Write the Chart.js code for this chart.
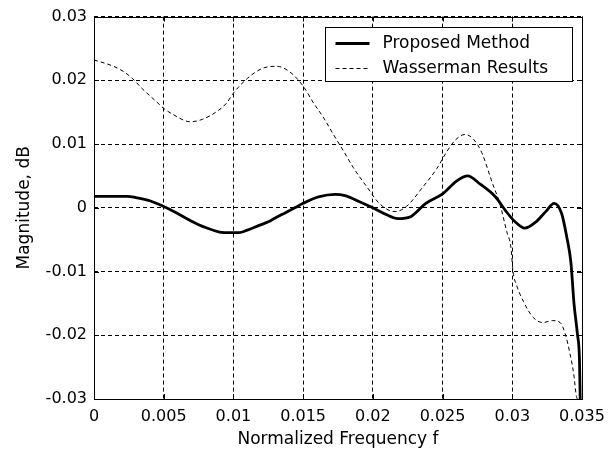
<!DOCTYPE html>
<html>
<head>
<meta charset="utf-8">
<script src="https://cdn.jsdelivr.net/npm/chart.js@4/dist/chart.umd.min.js"></script>
<style>
  html, body { margin: 0; padding: 0; background: #ffffff; }
  #wrap { width: 613px; height: 454px; }
</style>
</head>
<body>
<div id="wrap"><canvas id="c" width="613" height="454"></canvas></div>
<script>
// normalized frequency / magnitude (dB)
const proposedFreq = [0, 0.001, 0.002, 0.0024, 0.003, 0.004, 0.005, 0.006, 0.007, 0.008,
  0.009, 0.0098, 0.0104, 0.011, 0.0118, 0.0125, 0.013, 0.0137, 0.0144, 0.015,
  0.0161, 0.0173, 0.018, 0.019, 0.02, 0.021, 0.0218, 0.0227, 0.0238, 0.025,
  0.026, 0.0268, 0.0277, 0.0288, 0.0295, 0.0302, 0.0309, 0.0317, 0.0324, 0.033,
  0.03354, 0.0339, 0.0342, 0.03443, 0.03467, 0.03482, 0.03487]
const proposedMag = [0.0018, 0.0018, 0.0018, 0.0018, 0.0016, 0.0011, 0.0002, -0.0009, -0.0021, -0.0031,
  -0.0038, -0.0039, -0.0039, -0.0035, -0.0028, -0.0022, -0.0016, -0.0008, 0.0, 0.0007,
  0.0017, 0.0021, 0.0019, 0.001, 0.0, -0.0011, -0.0017, -0.0014, 0.0007, 0.0022,
  0.0042, 0.005, 0.0037, 0.0017, -0.0004, -0.0022, -0.0032, -0.0022, -0.0006, 0.0007,
  -0.0009, -0.0045, -0.0085, -0.0151, -0.0198, -0.0239, -0.03]

const wassermanFreq = [0, 0.0014, 0.0021, 0.0027, 0.0035, 0.0045, 0.005, 0.0057, 0.0069, 0.0078,
  0.0088, 0.0095, 0.01, 0.011, 0.0121, 0.0131, 0.014, 0.015, 0.0157, 0.0165,
  0.0172, 0.0179, 0.0186, 0.0196, 0.0205, 0.0216, 0.0224, 0.0236, 0.0246, 0.0253,
  0.0259, 0.0266, 0.0272, 0.0278, 0.0286, 0.0291, 0.0296, 0.0299, 0.03006, 0.0303,
  0.0308, 0.0315, 0.0322, 0.0329, 0.03343, 0.0338, 0.03414, 0.0344, 0.0346, 0.03467]
const wassermanMag = [0.0232, 0.0222, 0.0214, 0.0204, 0.0186, 0.0166, 0.0156, 0.0146, 0.0135, 0.0139,
  0.0151, 0.0164, 0.018, 0.0203, 0.0219, 0.0222, 0.0214, 0.0191, 0.0166, 0.014,
  0.0114, 0.0089, 0.0063, 0.0032, 0.0006, -0.0006, 0.0002, 0.0033, 0.0062, 0.0088,
  0.0106, 0.0115, 0.0108, 0.0087, 0.0037, 0.0007, -0.0037, -0.0062, -0.0101, -0.0121,
  -0.0147, -0.0172, -0.018, -0.0177, -0.018, -0.0198, -0.0229, -0.026, -0.0296, -0.03]

const seriesLabels = ['Proposed Method', 'Wasserman Results']
const xTicks = { min: 0, max: 0.035, step: 0.005 }
const yTicks = { min: -0.03, max: 0.03, step: 0.01 }

const FONT = '"DejaVu Sans", "Liberation Sans", Arial, sans-serif'
const toPoints = (xs, ys) => xs.map((x, i) => ({ x, y: ys[i] }))
const fmt = (v) => String(+v.toFixed(4))

// matlab style box, inward ticks and boxed legend
const framePlugin = {
  id: 'frame',
  afterDraw(chart) {
    const { ctx, chartArea: a, scales } = chart
    ctx.save()
    ctx.strokeStyle = '#000'
    ctx.lineWidth = 1
    ctx.setLineDash([])
    ctx.strokeRect(Math.round(a.left) + 0.5, Math.round(a.top) + 0.5,
      Math.round(a.right - a.left), Math.round(a.bottom - a.top))

    ctx.beginPath()
    scales.x.ticks.forEach((t) => {
      const px = Math.round(scales.x.getPixelForValue(t.value)) + 0.5
      ctx.moveTo(px, a.bottom); ctx.lineTo(px, a.bottom - 5)
      ctx.moveTo(px, a.top); ctx.lineTo(px, a.top + 5)
    })
    scales.y.ticks.forEach((t) => {
      const py = Math.round(scales.y.getPixelForValue(t.value)) + 0.5
      ctx.moveTo(a.left, py); ctx.lineTo(a.left + 5, py)
      ctx.moveTo(a.right, py); ctx.lineTo(a.right - 5, py)
    })
    ctx.stroke()

    const bw = 247
    const bh = 54
    const bx = Math.round(a.right - 10 - bw) + 0.5
    const by = Math.round(a.top + 10) + 0.5
    ctx.fillStyle = '#fff'
    ctx.fillRect(bx, by, bw, bh)
    ctx.strokeRect(bx, by, bw, bh)

    chart.data.datasets.forEach((ds, i) => {
      const y = Math.round(by + 15 + i * 25) + 0.5
      ctx.strokeStyle = ds.borderColor
      ctx.lineWidth = ds.borderWidth
      ctx.setLineDash(ds.borderDash || [])
      ctx.beginPath()
      ctx.moveTo(bx + 10, y)
      ctx.lineTo(bx + 44, y)
      ctx.stroke()
      ctx.setLineDash([])
      ctx.fillStyle = '#000'
      ctx.font = '17px ' + FONT
      ctx.textAlign = 'left'
      ctx.textBaseline = 'middle'
      ctx.fillText(ds.label, bx + 57, y)
    })
    ctx.restore()
  },
}

new Chart(document.getElementById('c'), {
  type: 'line',
  data: {
    datasets: [
      {
        label: seriesLabels[0],
        data: toPoints(proposedFreq, proposedMag),
        borderColor: '#000',
        borderWidth: 2.8,
        pointRadius: 0,
        cubicInterpolationMode: 'monotone',
      },
      {
        label: seriesLabels[1],
        data: toPoints(wassermanFreq, wassermanMag),
        borderColor: '#000',
        borderWidth: 1,
        borderDash: [4, 3],
        pointRadius: 0,
        cubicInterpolationMode: 'monotone',
      },
    ],
  },
  options: {
    responsive: false,
    animation: false,
    layout: { padding: { left: 0, top: 10, right: 31, bottom: 0 } },
    plugins: { legend: { display: false }, tooltip: { enabled: false } },
    scales: {
      x: {
        type: 'linear',
        min: xTicks.min,
        max: xTicks.max,
        afterFit: (s) => { s.height = 55 },
        ticks: {
          stepSize: xTicks.step,
          autoSkip: false,
          maxRotation: 0,
          padding: 8,
          color: '#000',
          font: { family: FONT, size: 16 },
          callback: (v) => fmt(v),
        },
        grid: { color: '#000', lineWidth: 1, drawTicks: false },
        border: { display: false, dash: [4, 3] },
        title: {
          display: true,
          text: 'Normalized Frequency f',
          color: '#000',
          font: { family: FONT, size: 17 },
          padding: { top: 0, bottom: 4 },
        },
      },
      y: {
        min: yTicks.min,
        max: yTicks.max,
        afterFit: (s) => { s.width = 94 },
        ticks: {
          stepSize: yTicks.step,
          padding: 7,
          color: '#000',
          font: { family: FONT, size: 16 },
          callback: (v) => fmt(v),
        },
        grid: { color: '#000', lineWidth: 1, drawTicks: false },
        border: { display: false, dash: [4, 3] },
        title: {
          display: true,
          text: 'Magnitude, dB',
          color: '#000',
          font: { family: FONT, size: 17 },
          padding: { top: 14, bottom: 0 },
        },
      },
    },
  },
  plugins: [framePlugin],
})
</script>
</body>
</html>
